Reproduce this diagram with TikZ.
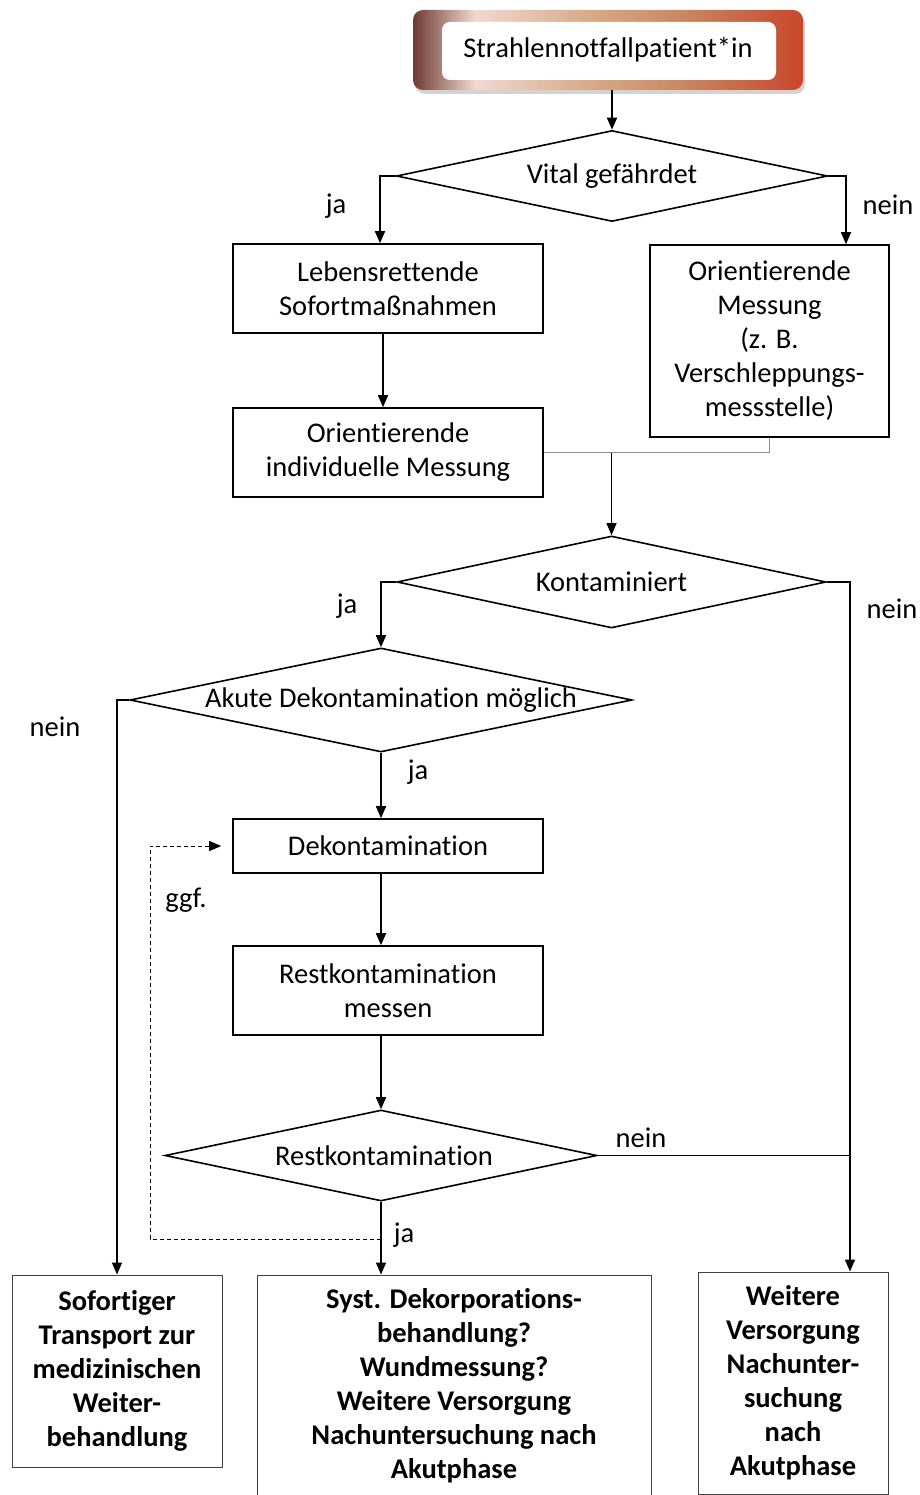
\documentclass[tikz,border=0pt]{standalone}
\usepackage{fontspec}
\setmainfont{Carlito}[Ligatures=NoCommon]
\usetikzlibrary{arrows.meta,shapes.geometric,shadows,positioning}
\definecolor{shadebrown}{HTML}{6E3B33}
\definecolor{shadepink}{HTML}{F2D8D0}
\definecolor{shadetan}{HTML}{D9AC8A}
\definecolor{shadeochre}{HTML}{C98560}
\definecolor{shadered}{HTML}{C8472B}
\pgfdeclarehorizontalshading{patientshade}{100bp}{color(0bp)=(shadebrown); color(25bp)=(shadebrown); color(33bp)=(shadepink); color(47bp)=(shadetan); color(60bp)=(shadeochre); color(75bp)=(shadered); color(100bp)=(shadered)}
\tikzset{
  patient/.style={
    rounded corners=10pt,
    shading=patientshade,
    minimum width=390pt,
    minimum height=80pt,
    drop shadow={shadow xshift=2pt, shadow yshift=-4pt, opacity=0.35},
    path picture={\fill[white, rounded corners=8pt]
      ([shift={(29pt,-12pt)}]path picture bounding box.north west) rectangle
      ([shift={(-27pt,10pt)}]path picture bounding box.south east);}
  },
  flowbox/.style={
    draw,
    line width=1.6pt,
    minimum width=310pt,
    minimum height=89pt,
    align=center,
    inner sep=4pt
  },
  decision/.style={
    diamond,
    draw,
    line width=1.6pt,
    inner sep=0pt
  },
  endbox/.style={
    draw=black!75,
    line width=1pt,
    align=center,
    font=\fontsize{28.5}{34}\selectfont\bfseries,
    inner sep=0pt
  },
  flowarrow/.style={
    -{Triangle[length=12pt,width=10pt]},
    line width=1.6pt
  },
  thinarrow/.style={
    flowarrow,
    line width=1pt
  },
  flowline/.style={
    line width=1.6pt
  },
  joinline/.style={
    draw=black!45,
    line width=1.2pt
  },
  ggfarrow/.style={
    -{Triangle[length=12pt,width=10pt]},
    dash pattern=on 4pt off 3pt,
    line width=1pt
  },
  edgelabel/.style={inner sep=0pt}
}
\begin{document}
\begin{tikzpicture}[x=1pt, y=-1pt, font=\fontsize{28.5}{34}\selectfont]
    \useasboundingbox (0,0) rectangle (919,1495);
    \clip (0,0) rectangle (919,1495);

    % Knoten
    \node[patient] (patient) at (608,50) {Strahlennotfallpatient*in};
    \node[decision, minimum width=431pt, minimum height=91pt] (vital) at (612,176) {\makebox[0pt]{Vital gefährdet}};
    \node[flowbox] (lebens) at (388,288.5) {Lebensrettende\\Sofortmaßnahmen};
    \node[flowbox, minimum width=239pt, minimum height=192pt] (orientmess) at (769.5,341) {Orientierende\\Messung\\(z. B.\\Verschleppungs-\\messstelle)};
    \node[flowbox] (orientind) at (388,452.5) {Orientierende\\individuelle Messung};
    \node[decision, minimum width=429pt, minimum height=92pt] (kontam) at (611.5,582) {\makebox[0pt]{Kontaminiert}};
    \node[decision, minimum width=502pt, minimum height=104pt] (akute) at (381,700) {\hspace*{20pt}\makebox[0pt]{Akute Dekontamination möglich}};
    \node[flowbox, minimum height=54pt] (dekon) at (388,846) {Dekontamination};
    \node[flowbox] (restmess) at (388,990.5) {Restkontamination\\messen};
    \node[decision, minimum width=432pt, minimum height=91pt] (restk) at (381,1155.5) {\hspace*{6pt}\makebox[0pt]{Restkontamination}};
    \node[endbox, minimum width=210pt, minimum height=192pt] (sofort) at (117,1371) {Sofortiger\\Transport zur\\medizinischen\\Weiter-\\behandlung};
    \node[endbox, minimum width=394pt, minimum height=222pt] (syst) at (454,1386) {Syst. Dekorporations-\\behandlung?\\Wundmessung?\\Weitere Versorgung\\Nachuntersuchung nach\\Akutphase};
    \node[endbox, minimum width=190pt, minimum height=222pt] (weiter) at (793,1383) {Weitere\\Versorgung\\Nachunter-\\suchung\\nach\\Akutphase};

    % Beschriftungen
    \node[edgelabel] (jaVital) at (336,206) {ja};
    \node[edgelabel] (neinVital) at (888,205) {nein};
    \node[edgelabel] (jaKont) at (347,606) {ja};
    \node[edgelabel] (neinKont) at (892,609) {nein};
    \node[edgelabel] (neinAkut) at (55,727) {nein};
    \node[edgelabel] (jaAkut) at (418,772) {ja};
    \node[edgelabel] (ggfLabel) at (186,900) {ggf.};
    \node[edgelabel] (neinRest) at (641,1138) {nein};
    \node[edgelabel] (jaRest) at (404,1235) {ja};

    \coordinate (rail) at (850,1155.5);
    \coordinate (ggfstart) at (381,1239);
    \coordinate (ggfcorner) at (150,1239);

    % Verbindungen
    \draw[flowarrow] (patient.south -| vital.north) -- (vital.north);
    \draw[flowarrow] (vital.west) -| ([xshift=-8pt]lebens.north);
    \draw[flowarrow] (vital.east) -| ([xshift=76.5pt]orientmess.north);
    \draw[flowarrow] ([xshift=-5pt]lebens.south) -- ([xshift=-5pt]orientind.north);
    \draw[joinline] (orientmess.south) |- (orientind.east);
    \draw[thinarrow] (kontam.north |- orientind.east) -- (kontam.north);
    \draw[flowarrow] (kontam.west) -| (akute.north);
    \draw[flowarrow] (kontam.east) -| (rail |- weiter.north);
    \draw[flowarrow] (akute.west) -| (sofort.north);
    \draw[flowarrow] (akute.south) -- (akute.south |- dekon.north);
    \draw[flowarrow] (dekon.south -| akute.south) -- (restmess.north -| akute.south);
    \draw[flowarrow] (restmess.south -| restk.north) -- (restk.north);
    \draw[flowline] (restk.east) -- (rail);
    \draw[flowarrow] (restk.south) -- (restk.south |- syst.north);
    \draw[ggfarrow] (ggfstart) -- (ggfcorner) |- ([xshift=-11pt]dekon.west);
\end{tikzpicture}
\end{document}
